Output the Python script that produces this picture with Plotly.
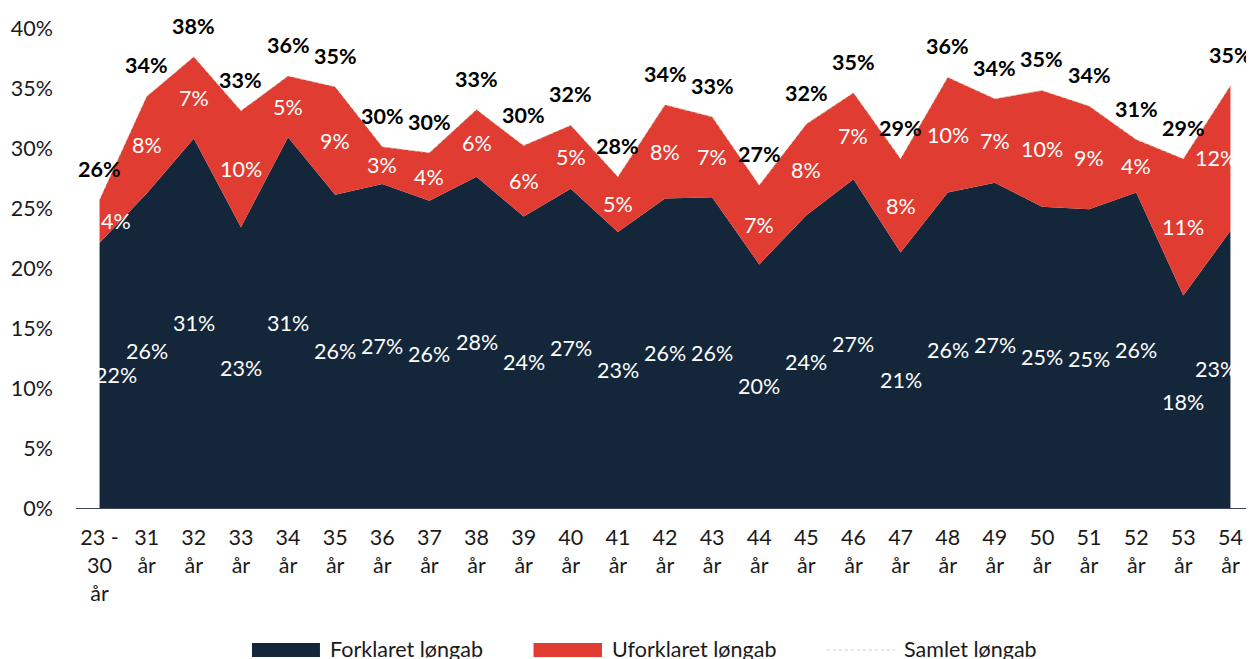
import plotly.graph_objects as go

categories = ["23 -<br>30<br>år", "31<br>år", "32<br>år", "33<br>år", "34<br>år", "35<br>år",
              "36<br>år", "37<br>år", "38<br>år", "39<br>år", "40<br>år", "41<br>år",
              "42<br>år", "43<br>år", "44<br>år", "45<br>år", "46<br>år", "47<br>år",
              "48<br>år", "49<br>år", "50<br>år", "51<br>år", "52<br>år", "53<br>år", "54<br>år"]
forklaret = [22.1, 26.2, 30.8, 23.4, 30.9, 26.1, 27.0, 25.6, 27.6, 24.3, 26.6, 23.0,
             25.8, 25.9, 20.3, 24.4, 27.4, 21.3, 26.3, 27.1, 25.1, 24.9, 26.3, 17.7, 23.1]
uforklaret = [3.6, 8.1, 6.8, 9.7, 5.1, 9.0, 3.1, 4.0, 5.6, 5.9, 5.3, 4.6,
              7.8, 6.7, 6.6, 7.6, 7.2, 7.8, 9.6, 7.0, 9.7, 8.6, 4.4, 11.4, 12.1]
samlet = [round(a + b, 2) for a, b in zip(forklaret, uforklaret)]
y_ticks = [0, 5, 10, 15, 20, 25, 30, 35, 40]
series_names = ["Forklaret løngab", "Uforklaret løngab", "Samlet løngab"]

NAVY = "#13263a"
RED = "#e03c31"
TAN = "#d8ccb4"
FONT = "Lato"
FS = 21.5

def pct(v):
    return f"{int(v + 0.5)}%"

fig = go.Figure()
fig.add_trace(go.Scatter(x=categories, y=forklaret, name=series_names[0], stackgroup="one",
                         mode="none", fillcolor=NAVY, hoverinfo="skip", showlegend=False))
fig.add_trace(go.Scatter(x=categories, y=uforklaret, name=series_names[1], stackgroup="one",
                         mode="none", fillcolor=RED, hoverinfo="skip", showlegend=False))
fig.add_trace(go.Scatter(x=categories, y=samlet, name=series_names[2], mode="lines",
                         line=dict(color=TAN, width=1, dash="dot"), hoverinfo="skip",
                         showlegend=False))

n = len(categories)
for i in range(n):
    xs = 16 if i == 0 else (-14 if i == n - 1 else 0)
    fig.add_annotation(x=categories[i], y=forklaret[i] / 2, text=pct(forklaret[i]),
                       showarrow=False, xshift=xs,
                       font=dict(family=FONT, size=FS, color="white"))
    fig.add_annotation(x=categories[i], y=forklaret[i] + uforklaret[i] / 2, text=pct(uforklaret[i]),
                       showarrow=False, xshift=xs,
                       font=dict(family=FONT, size=FS, color="white"))
    fig.add_annotation(x=categories[i], y=samlet[i], text="<b>" + pct(samlet[i]) + "</b>",
                       showarrow=False, yshift=31,
                       font=dict(family=FONT, size=FS, color="black"))

# manual legend (paper coordinates)
leg_y = -0.2958
txt_y = leg_y + 0.002
swatches = [(0.1494, 0.2071, NAVY, 0.2139), (0.3884, 0.4465, RED, 0.4533)]
for (x0, x1, col, tx), name in zip(swatches, series_names[:2]):
    fig.add_shape(type="rect", xref="paper", yref="paper", x0=x0, x1=x1,
                  y0=-0.3104, y1=-0.2813, fillcolor=col, line=dict(width=0))
    fig.add_annotation(xref="paper", yref="paper", x=tx, y=txt_y, xanchor="left",
                       yanchor="middle", text=name, showarrow=False,
                       font=dict(family=FONT, size=FS, color="#1a1a1a"))
fig.add_shape(type="line", xref="paper", yref="paper", x0=0.6375, x1=0.6952,
              y0=leg_y, y1=leg_y, line=dict(color=TAN, width=1, dash="dot"))
fig.add_annotation(xref="paper", yref="paper", x=0.7012, y=txt_y, xanchor="left",
                   yanchor="middle", text=series_names[2], showarrow=False,
                   font=dict(family=FONT, size=FS, color="#1a1a1a"))

fig.update_layout(
    width=1254, height=659,
    margin=dict(l=68, r=8, t=20, b=159),
    plot_bgcolor="white", paper_bgcolor="white",
    font=dict(family=FONT, size=FS, color="#1a1a1a"),
    showlegend=False,
    xaxis=dict(type="category", range=[-0.5, n - 0.5], showgrid=False, showline=True,
               linecolor="#3a4654", linewidth=1, ticks="", automargin=False,
               ticklabelstandoff=10, tickfont=dict(size=FS, color="#1a1a1a")),
    yaxis=dict(range=[0, 40], tickvals=y_ticks, ticktext=[f"{v}%" for v in y_ticks],
               showgrid=False, zeroline=False, showline=False, ticks="", automargin=False,
               ticklabelstandoff=22, tickfont=dict(size=FS, color="#1a1a1a")),
)

fig.write_html("out.html")
